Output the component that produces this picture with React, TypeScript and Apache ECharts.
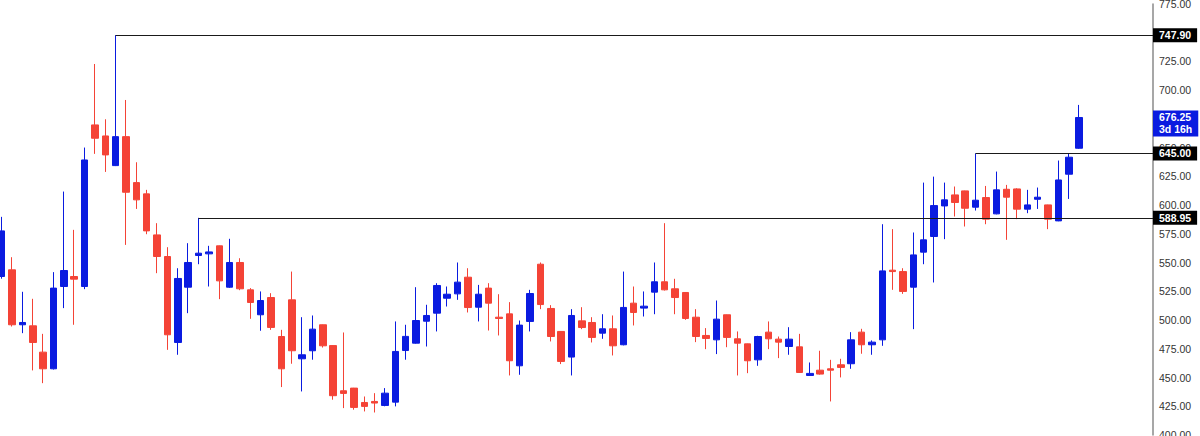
import React, { useEffect, useRef } from "react";
import * as echarts from "echarts";

// ---- data ----
const opens = [
  537.9, 543.7, 495.9, 495.0, 472.1, 457.6, 529.2, 537.9, 529.2, 669.8,
  660.2, 634.4, 659.6, 619.6, 609.8, 574.1, 555.3, 480.5, 528.6, 556.2,
  557.6, 564.6, 528.6, 550.1, 526.3, 504.6, 519.6, 485.7, 517.6, 466.3,
  473.3, 495.9, 477.8, 438.5, 440.8, 428.3, 429.2, 425.7, 428.6, 473.5,
  479.9, 499.0, 506.0, 519.0, 522.8, 537.3, 511.2, 527.8, 502.5, 505.4,
  460.2, 498.8, 548.6, 510.1, 490.1, 467.8, 499.3, 497.9, 488.6, 492.4,
  478.5, 514.7, 510.4, 524.3, 533.3, 527.2, 524.0, 502.5, 486.6, 482.8,
  504.6, 483.7, 479.3, 465.4, 489.5, 483.4, 477.0, 476.7, 451.8, 456.4,
  457.6, 461.1, 462.0, 489.5, 478.5, 482.8, 543.4, 542.2, 528.6, 559.1,
  572.7, 599.3, 608.9, 612.4, 598.2, 606.6, 592.4, 613.8, 614.1, 596.5,
  605.1, 600.2, 586.3, 626.9, 649.5,
];
const closes = [
  577.6, 495.9, 497.9, 480.5, 457.6, 527.8, 543.1, 535.6, 639.3, 658.2,
  643.7, 659.6, 611.2, 604.6, 577.6, 555.3, 487.2, 536.2, 550.1, 558.2,
  559.3, 534.1, 550.1, 527.2, 515.3, 517.0, 493.6, 457.6, 473.3, 469.8,
  492.1, 477.6, 434.2, 436.2, 424.0, 424.9, 427.8, 436.4, 472.7, 485.8,
  499.6, 504.0, 530.1, 522.5, 533.0, 510.9, 522.5, 514.7, 501.4, 464.6,
  495.6, 523.1, 513.5, 485.7, 464.0, 504.0, 493.5, 484.9, 492.4, 477.6,
  511.0, 506.6, 512.1, 533.3, 526.3, 519.6, 501.4, 485.7, 484.0, 500.8,
  484.9, 479.9, 464.6, 485.7, 483.7, 480.8, 483.4, 454.4, 453.6, 453.0,
  456.4, 458.8, 482.8, 478.5, 480.8, 542.8, 542.2, 524.9, 556.7, 569.8,
  599.6, 604.6, 602.3, 597.3, 604.3, 587.8, 613.3, 606.9, 596.5, 600.2,
  606.9, 587.8, 621.9, 641.7, 676.25,
];
const lows = [
  536.0, 494.4, 488.6, 456.2, 445.1, 457.0, 510.4, 495.9, 526.9, 644.6,
  628.9, 634.0, 565.4, 596.7, 574.7, 540.8, 474.1, 469.8, 506.0, 548.6,
  529.2, 518.2, 528.0, 526.0, 501.1, 490.7, 491.5, 441.7, 462.0, 437.9,
  465.5, 476.1, 430.7, 423.4, 422.0, 420.5, 419.6, 425.0, 424.9, 465.5,
  479.5, 477.0, 490.1, 511.8, 517.6, 506.6, 498.8, 490.9, 486.6, 451.8,
  452.4, 490.1, 509.5, 481.4, 461.7, 451.8, 492.1, 480.5, 483.7, 469.2,
  478.0, 495.3, 503.1, 505.1, 525.7, 505.1, 500.2, 480.8, 474.7, 470.4,
  476.4, 451.8, 453.8, 460.2, 474.7, 466.9, 469.8, 454.0, 451.5, 452.5,
  429.2, 450.1, 457.6, 470.7, 469.8, 477.6, 526.3, 522.8, 492.1, 548.6,
  532.7, 570.4, 590.1, 581.4, 595.3, 583.4, 592.0, 569.8, 587.8, 593.0,
  596.7, 579.1, 586.0, 605.4, 649.0,
];
const highs = [
  589.8, 554.7, 524.6, 518.5, 488.0, 541.7, 611.8, 578.5, 650.1, 722.8,
  674.7, 747.9, 691.5, 637.3, 613.3, 584.3, 563.4, 545.1, 566.9, 588.95,
  564.6, 564.8, 570.7, 553.8, 527.8, 524.9, 523.4, 491.5, 542.2, 502.5,
  504.0, 496.1, 478.0, 489.2, 441.0, 433.5, 436.4, 440.8, 498.8, 495.9,
  528.6, 513.3, 532.1, 529.2, 550.1, 545.1, 530.6, 532.1, 522.5, 515.6,
  499.6, 526.3, 550.1, 513.0, 490.3, 509.5, 511.2, 502.5, 505.1, 504.0,
  542.2, 529.2, 524.9, 550.1, 584.3, 535.9, 524.2, 509.5, 493.0, 517.0,
  504.8, 490.1, 479.5, 486.3, 498.8, 485.7, 493.8, 488.0, 463.1, 473.3,
  465.4, 466.3, 489.5, 492.4, 482.3, 583.4, 579.1, 545.1, 576.2, 619.6,
  624.8, 619.6, 616.2, 612.6, 645.0, 616.7, 629.2, 617.6, 614.7, 613.3,
  615.3, 600.4, 638.8, 645.0, 687.2,
];

// horizontal levels and the candle index where each one starts
const levels = [747.9, 645.0, 588.95];
const levelStarts = [11, 94, 19];
const timeLeft = "3d 16h";

// y-axis tick range
const yMin = 400;
const yMax = 775;
const yStep = 25;

// x-axis (index) extent
const xMin = -0.164;
const xMax = 111.13;

const UP = "#0a1be0";
const DOWN = "#f44336";
const FONT = "Liberation Sans, Arial, sans-serif";

export default function App() {
  const ref = useRef<HTMLDivElement>(null);

  useEffect(() => {
    if (!ref.current) return;
    const chart = echarts.init(ref.current, null, { renderer: "svg" });
    const data = opens.map((o, i) => [i, o, closes[i], lows[i], highs[i]]);
    const last = opens.length - 1;
    const lastClose = closes[last];

    const levelLines = levels.map((v, k) => [
      { coord: [levelStarts[k], v], value: v },
      { coord: [xMax, v], value: v },
    ]);

    chart.setOption({
      animation: false,
      backgroundColor: "#ffffff",
      textStyle: { fontFamily: FONT },
      grid: {
        left: 0,
        right: 47,
        top: 4,
        bottom: 1,
        containLabel: false,
        outerBoundsMode: "none",
      },
      xAxis: {
        type: "value",
        min: xMin,
        max: xMax,
        show: false,
        splitLine: { show: false },
      },
      yAxis: {
        type: "value",
        position: "right",
        min: yMin,
        max: yMax,
        interval: yStep,
        splitLine: { show: false },
        axisTick: { show: false },
        axisLine: {
          show: true,
          onZero: false,
          lineStyle: { color: "#8a8a8a", width: 1.5 },
        },
        axisLabel: {
          color: "#333333",
          fontSize: 10.5,
          fontFamily: FONT,
          margin: 6,
          showMinLabel: true,
          showMaxLabel: true,
          hideOverlap: false,
          formatter: (v: number) => v.toFixed(2),
        },
      },
      series: [
        {
          type: "candlestick",
          clip: false,
          barWidth: 7,
          data,
          itemStyle: {
            color: UP,
            color0: DOWN,
            borderColor: UP,
            borderColor0: DOWN,
            borderWidth: 1,
          },
          markLine: {
            silent: true,
            animation: false,
            symbol: ["none", "none"],
            precision: 2,
            lineStyle: { color: "#1a1a1a", width: 1, type: "solid" },
            label: {
              show: true,
              position: "end",
              distance: 0,
              color: "#ffffff",
              backgroundColor: "#000000",
              fontWeight: "bold",
              fontSize: 10.5,
              fontFamily: FONT,
              lineHeight: 12,
              padding: [1, 6, 1, 6],
              formatter: (p: any) => Number(p.value).toFixed(2),
            },
            data: [
              ...levelLines,
              [
                {
                  coord: [last, lastClose],
                  value: lastClose,
                  lineStyle: { color: "rgba(0,0,0,0)", width: 0 },
                  label: {
                    show: true,
                    position: "end",
                    distance: 0,
                    color: "#ffffff",
                    backgroundColor: UP,
                    fontWeight: "bold",
                    fontSize: 10.5,
                    fontFamily: FONT,
                    lineHeight: 12,
                    padding: [1, 6, 1, 6],
                    offset: [0, 6],
                    formatter: (p: any) => Number(p.value).toFixed(2) + "\n" + timeLeft,
                  },
                },
                { coord: [xMax, lastClose], value: lastClose },
              ],
            ],
          },
        },
      ],
    });

    return () => chart.dispose();
  }, []);

  return (
    <div
      ref={ref}
      style={{ position: "fixed", left: 0, top: 0, width: 1200, height: 436, background: "#fff" }}
    />
  );
}
